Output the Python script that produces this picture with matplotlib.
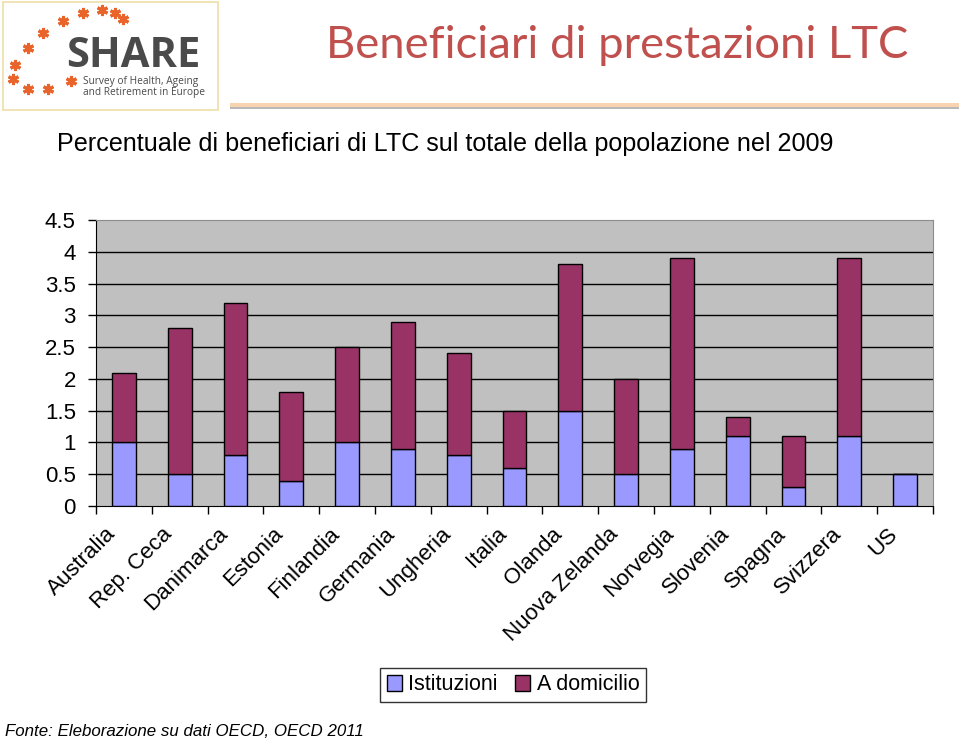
import matplotlib
matplotlib.use("Agg")
import matplotlib.pyplot as plt
from matplotlib.patches import Rectangle
from matplotlib.transforms import ScaledTranslation
import numpy as np

# data (percent of population, 2009)
countries = ["Australia", "Rep. Ceca", "Danimarca", "Estonia", "Finlandia",
             "Germania", "Ungheria", "Italia", "Olanda", "Nuova Zelanda",
             "Norvegia", "Slovenia", "Spagna", "Svizzera", "US"]
istituzioni = [1.0, 0.5, 0.8, 0.4, 1.0, 0.9, 0.8, 0.6, 1.5, 0.5, 0.9, 1.1, 0.3, 1.1, 0.5]
domicilio = [1.1, 2.3, 2.4, 1.4, 1.5, 2.0, 1.6, 0.9, 2.3, 1.5, 3.0, 0.3, 0.8, 2.8, 0.0]
yticks = [0, 0.5, 1, 1.5, 2, 2.5, 3, 3.5, 4, 4.5]
ytick_labels = ["0", "0.5", "1", "1.5", "2", "2.5", "3", "3.5", "4", "4.5"]

plt.rcParams['font.family'] = ['Liberation Sans', 'DejaVu Sans']

W, H = 959, 741
fig = plt.figure(figsize=(W / 100, H / 100), dpi=100)
fig.patch.set_facecolor("white")

# header drawn on a full-figure overlay in pixel coordinates
deco = fig.add_axes([0, 0, 1, 1])
deco.set_xlim(0, W)
deco.set_ylim(H, 0)
deco.axis("off")

deco.add_patch(Rectangle((3, 2), 215, 108, facecolor="white",
                         edgecolor="#eedfa8", linewidth=1.2))
star_x = [83, 102, 115, 123, 63, 43, 28, 15, 13, 28, 48, 71]
star_y = [13, 10, 13, 19, 21, 33, 48, 65, 79, 89, 89, 81]
deco.plot(star_x, star_y, linestyle="none", marker=(6, 2, 0), markersize=8,
          markeredgewidth=2.2, color="#e8642a")
deco.text(66, 67, "SHARE", color="#4a4a4a", fontsize=30, fontweight="bold",
          family="Open Sans", ha="left", va="baseline")
deco.text(83, 87, "Survey of Health, Ageing\nand Retirement in Europe",
          color="#4a4a4a", fontsize=7.3, family="Open Sans", ha="left",
          va="center", linespacing=1.1)

deco.text(908, 46, "Beneficiari di prestazioni LTC", color="#c0504d",
          fontsize=32.7, family="Lato", ha="right", va="center")
deco.add_patch(Rectangle((230, 103), 729, 4, facecolor="#f8d3b0", edgecolor="none"))
deco.add_patch(Rectangle((230, 107), 729, 2, facecolor="#b8b8b8", edgecolor="none"))

deco.text(57, 144,
          "Percentuale di beneficiari di LTC sul totale della popolazione nel 2009",
          fontsize=18.1, ha="left", va="center")

deco.text(5, 731, "Fonte: Eleborazione su dati OECD, OECD 2011",
          fontsize=12.2, style="italic", ha="left", va="center")

# --- chart ---
ax = fig.add_axes([96 / W, 1 - 506 / H, 837 / W, 286 / H])
ax.set_facecolor("#c0c0c0")
x = np.arange(len(countries))
w = 0.43
ax.bar(x, istituzioni, w, color="#9999ff", edgecolor="black", linewidth=1,
       label="Istituzioni", zorder=3)
ax.bar(x, domicilio, w, bottom=istituzioni, color="#993366", edgecolor="black",
       linewidth=1, label="A domicilio", zorder=3)

ax.set_xlim(-0.5, len(countries) - 0.5)
ax.set_ylim(0, 4.5)
ax.set_yticks(yticks)
ax.set_yticklabels(ytick_labels, fontsize=16)
for yv in yticks[1:-1]:
    ax.axhline(yv, color="black", linewidth=1, zorder=1)

ax.set_xticks(x)
ax.set_xticklabels(countries, rotation=45, ha="right", va="center",
                   rotation_mode="anchor", fontsize=16)
ax.tick_params(axis="x", which="major", length=0, pad=18)
shift = ScaledTranslation(-11 / 100, 0, fig.dpi_scale_trans)
for lab in ax.get_xticklabels():
    lab.set_transform(lab.get_transform() + shift)
ax.set_xticks(np.arange(-0.5, len(countries), 1), minor=True)
ax.tick_params(axis="x", which="minor", length=6, direction="out", width=1)
ax.tick_params(axis="y", length=5.5, direction="out", width=1, pad=9)

for side in ["top", "right"]:
    ax.spines[side].set_color("#8c8c8c")
for side in ["left", "bottom"]:
    ax.spines[side].set_color("black")

leg = fig.legend(loc="center", bbox_to_anchor=(513 / W, 1 - 685 / H), ncol=2,
                 fontsize=15.5, frameon=True, fancybox=False, edgecolor="black",
                 handlelength=0.7, handleheight=0.7, handletextpad=0.3,
                 columnspacing=0.8, borderpad=0.3)
leg.get_frame().set_linewidth(1)

fig.savefig("out.png", dpi=100, facecolor="white")
